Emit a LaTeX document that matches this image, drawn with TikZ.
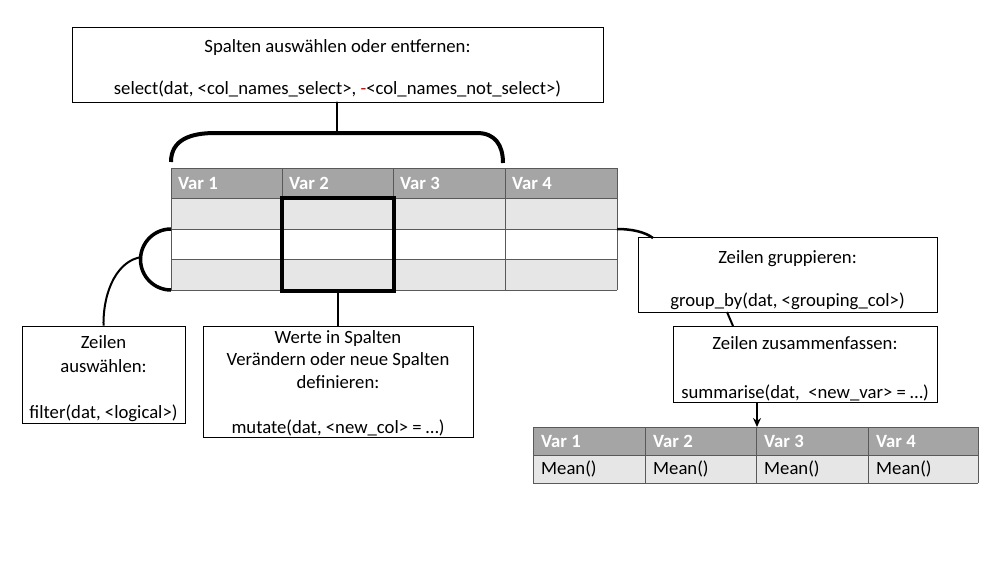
\documentclass[tikz,border=0pt]{standalone}
\usepackage{fontspec}
\setmainfont{Carlito}
\usetikzlibrary{arrows.meta}
\definecolor{hdr}{HTML}{A5A5A5}
\definecolor{lite}{HTML}{E7E6E6}
\definecolor{grid}{HTML}{595959}
\definecolor{minus}{HTML}{E00000}
\tikzset{
  txtbox/.style={draw=black, line width=0.9pt, fill=white, align=center, inner sep=0pt,
    font=\fontsize{18.7}{23}\selectfont},
  hdrtxt/.style={anchor=west, text=white, font=\fontsize{18.7}{22}\selectfont\bfseries, inner sep=0pt},
  celltxt/.style={anchor=west, text=black, font=\fontsize{18.7}{22}\selectfont, inner sep=0pt},
  gridline/.style={draw=grid, line width=1pt},
  conn/.style={line width=2.2pt, line cap=round}
}
\begin{document}
\begin{tikzpicture}[x=1pt,y=-1pt]
\useasboundingbox (0,0) rectangle (1001,563);
% ---------- main table ----------
\fill[hdr] (171,168) rectangle (617,198);
\fill[lite] (171,198) rectangle (617,229);
\fill[white] (171,229) rectangle (617,259);
\fill[lite] (171,259) rectangle (617,290);
\foreach \y in {168,198,229,259,290} \draw[gridline] (171,\y) -- (617,\y);
\foreach \x in {171,282,393,505,617} \draw[gridline] (\x,168) -- (\x,290);
\node[hdrtxt] (h1) at (178,183) {Var 1};
\node[hdrtxt] (h2) at (289,183) {Var 2};
\node[hdrtxt] (h3) at (400,183) {Var 3};
\node[hdrtxt] (h4) at (512,183) {Var 4};
% highlighted column
\draw[line width=4pt] (282,198) rectangle (394,291);
\coordinate (colbot) at (338,291);
% ---------- boxes ----------
\node[txtbox, minimum width=531pt, minimum height=75pt] (sel) at (337.5,64.5)
  {\rule{0pt}{21pt}Spalten auswählen oder entfernen:\\[19pt]select(dat, <col\_names\_select>, {\color{minus}-}<col\_names\_not\_select>)};
\node[txtbox, minimum width=163pt, minimum height=97pt] (fil) at (103.5,374.5)
  {\rule{0pt}{22pt}Zeilen\\[1pt]auswählen:\\[23pt]filter(dat, <logical>)};
\node[txtbox, minimum width=270pt, minimum height=111pt] (mut) at (338,381.5)
  {\rule{0pt}{16pt}Werte in Spalten\\[-0.5pt]Verändern oder neue Spalten\\[-0.5pt]definieren:\\[22pt]mutate(dat, <new\_col> = …)};
\node[txtbox, minimum width=299pt, minimum height=75pt] (grp) at (787.5,275)
  {\rule{0pt}{24pt}Zeilen gruppieren:\\[20pt]group\_by(dat, <grouping\_col>)};
\node[txtbox, minimum width=264pt, minimum height=76pt] (sum) at (805,364)
  {\rule{0pt}{23pt}Zeilen zusammenfassen:\\[26pt]summarise(dat,\ \ <new\_var> = …)};
% ---------- brace over columns ----------
\coordinate (bl) at (171,162);
\coordinate (br) at (503,163);
\coordinate (btop) at (337,133);
\draw[line width=4pt] (bl) .. controls (171,140) and (190,133) .. (215,133) -- (477,133)
  .. controls (495,133) and (503,145) .. (br);
\draw[conn] (sel.south -| btop) -- (btop);
% ---------- left bracket over rows ----------
\draw[line width=3.5pt] (171,229) arc[start angle=270, end angle=90, radius=30.5];
\coordinate (lb) at (142,257);
\draw[line width=2pt] (lb) .. controls (118,260) and (103,290) .. (fil.north);
% ---------- mutate connector ----------
\draw[conn] (colbot) -- (mut.north -| colbot);
% ---------- group connector ----------
\coordinate (rt) at (617,229);
\draw[line width=2.5pt] (rt) .. controls (632,229) and (645,232) .. (653,238);
\draw[line width=2pt] (727,312) -- (733,326);
% ---------- result table ----------
\fill[hdr] (533,427) rectangle (978,455);
\fill[lite] (533,455) rectangle (978,483);
\foreach \y in {427,455,483} \draw[gridline] (533,\y) -- (978,\y);
\foreach \x in {533,645,756,868,978} \draw[gridline] (\x,427) -- (\x,483);
\node[hdrtxt] (r1) at (541,441) {Var 1};
\node[hdrtxt] (r2) at (653,441) {Var 2};
\node[hdrtxt] (r3) at (764,441) {Var 3};
\node[hdrtxt] (r4) at (876,441) {Var 4};
\node[celltxt] (m1) at (541,469) {Mean()};
\node[celltxt] (m2) at (653,469) {Mean()};
\node[celltxt] (m3) at (764,469) {Mean()};
\node[celltxt] (m4) at (876,469) {Mean()};
\coordinate (rtop) at (757,427);
\draw[line width=2pt, -{Stealth[length=9pt,width=8pt]}] (sum.south -| rtop) -- (rtop);
\end{tikzpicture}
\end{document}
